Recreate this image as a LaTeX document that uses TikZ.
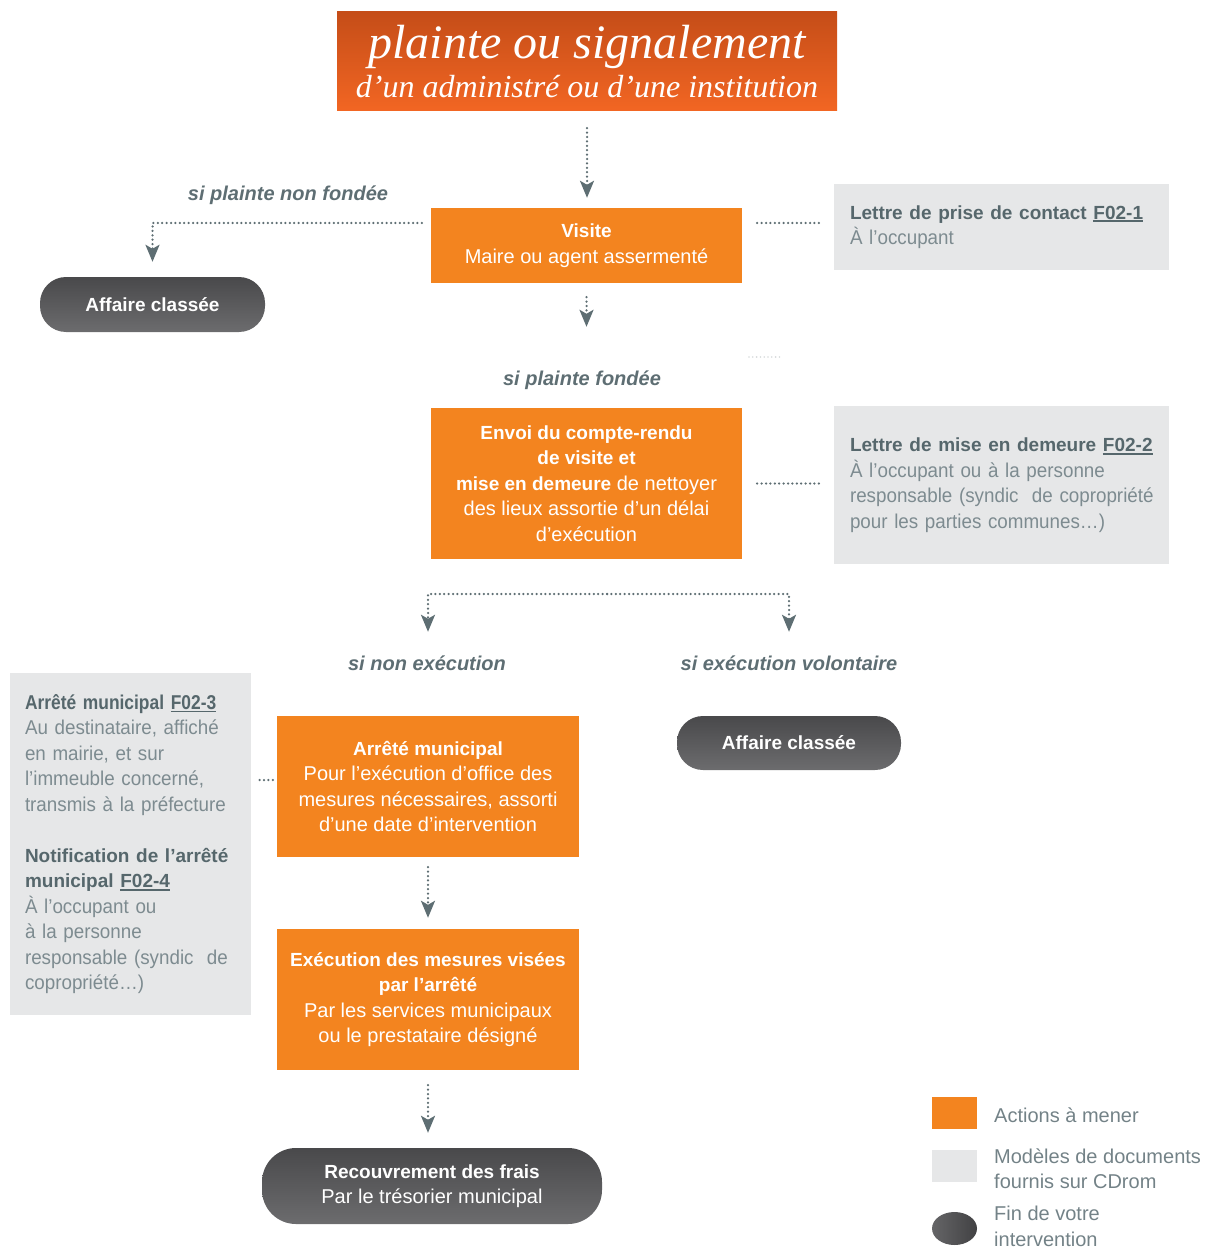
\documentclass[tikz,border=0pt]{standalone}
\usepackage{fontspec}
\setmainfont{Liberation Sans}
\newfontfamily\titlefont{Liberation Serif}
\newfontfamily\plainfont{Liberation Sans}
\newfontfamily\condfont[FakeStretch=0.87]{Liberation Sans}
\newfontfamily\docfont[FakeStretch=0.94]{Liberation Sans}
\usetikzlibrary{arrows.meta,shapes.geometric,calc}

\definecolor{actorange}{HTML}{F3841F}
\definecolor{titletop}{HTML}{C54D18}
\definecolor{titlebot}{HTML}{F26623}
\definecolor{docgray}{HTML}{E6E7E8}
\definecolor{docdark}{HTML}{56676C}
\definecolor{docmid}{HTML}{7D8B90}
\definecolor{flowgray}{HTML}{5E6E73}
\definecolor{faintgray}{HTML}{D6DADB}
\definecolor{pilltop}{HTML}{49494B}
\definecolor{pillbot}{HTML}{6C6C6E}
\definecolor{legtextc}{HTML}{738287}

% bold run inside a box, bold heading of a document box, condensed heading
\newcommand\hb[1]{{\fontsize{19}{25.5}\selectfont\bfseries #1}}
\newcommand\hd[1]{{\color{docdark}\plainfont\fontsize{19}{25.5}\selectfont\bfseries #1}}
\newcommand\hc[1]{{\color{docdark}\condfont\fontsize{20}{25.5}\selectfont\bfseries #1}}
% underlined form reference
\newcommand\fref[1]{\setbox0\hbox{#1}\rlap{\rule[-3pt]{\wd0}{1.6pt}}\box0}

\begin{document}
\begin{tikzpicture}[x=1pt,y=-1pt,
  basefont/.style={font=\fontsize{20}{25.5}\selectfont},
  action/.style={basefont, fill=actorange, text=white, align=center, inner sep=0pt},
  doc/.style={font=\docfont\fontsize{20}{25.5}\selectfont, fill=docgray, text=docmid, align=left, inner xsep=16pt, inner ysep=0pt},
  pill/.style={basefont, top color=pilltop, bottom color=pillbot, text=white, align=center, inner sep=0pt},
  lab/.style={font=\fontsize{20}{24}\selectfont\bfseries\itshape, text=flowgray, inner sep=0pt},
  legtext/.style={basefont, text=legtextc, align=left, inner sep=0pt, anchor=west},
  dotline/.style={draw=flowgray, line width=2.5pt, dash pattern=on 0pt off 4.4pt, line cap=round},
  flow/.style={dotline, -{Stealth[length=17pt,width=14pt,inset=4pt]}}
]
\useasboundingbox (0,0) rectangle (1208,1249);

% title banner
\node[top color=titletop, bottom color=titlebot, text=white, align=center, inner sep=0pt,
      minimum width=500pt, minimum height=99pt, font=\titlefont\itshape] (title) at (587,61.5)
  {\fontsize{48}{40}\selectfont plainte ou signalement\\[6pt]
   \fontsize{32}{36}\selectfont d’un administré ou d’une institution};

% actions
\node[action, minimum width=311pt, minimum height=75pt] (visite) at (586.5,245.5)
  {\hb{Visite}\\Maire ou agent assermenté};
\node[action, minimum width=311pt, minimum height=151pt] (envoi) at (586.5,483.5)
  {\hb{Envoi du compte-rendu}\\\hb{de visite et}\\\hb{mise en demeure} de nettoyer\\des lieux assortie d’un délai\\d’exécution};
\node[action, minimum width=302pt, minimum height=141pt] (arrete) at (428,786.5)
  {\hb{Arrêté municipal}\\Pour l’exécution d’office des\\mesures nécessaires, assorti\\d’une date d’intervention};
\node[action, minimum width=302pt, minimum height=141pt] (exec) at (428,999.5)
  {\hb{Exécution des mesures visées}\\\hb{par l’arrêté}\\Par les services municipaux\\ou le prestataire désigné};

% ends of the procedure
\node[pill, rounded corners=26pt, minimum width=225pt, minimum height=55pt] (aff1) at (152.5,304.5)
  {\hb{Affaire classée}};
\node[pill, rounded corners=26pt, minimum width=224pt, minimum height=54pt] (aff2) at (789,743)
  {\hb{Affaire classée}};
\node[pill, rounded corners=34pt, minimum width=340pt, minimum height=76pt] (recouv) at (432,1186)
  {\hb{Recouvrement des frais}\\Par le trésorier municipal};

% document models
\node[doc, text width=303pt, minimum height=86pt] (doc1) at (1001.5,227)
  {\hd{Lettre de prise de contact \fref{F02-1}}\\À l’occupant};
\node[doc, text width=303pt, minimum height=158pt] (doc2) at (1001.5,485)
  {\mbox{\hd{Lettre de mise en demeure \fref{F02-2}}}\\
   \mbox{À l’occupant ou à la personne}\\
   \mbox{responsable (syndic\ \ de copropriété}\\
   \mbox{pour les parties communes…)}};
\node[doc, inner xsep=15pt, text width=211pt, minimum height=342pt] (doc3) at (130.5,844)
  {\mbox{\hc{Arrêté municipal \fref{F02-3}}}\\
   \mbox{Au destinataire, affiché}\\
   \mbox{en mairie, et sur}\\
   \mbox{l’immeuble concerné,}\\
   \mbox{transmis à la préfecture}\\[25.5pt]
   \mbox{\hd{Notification de l’arrêté}}\\
   \mbox{\hd{municipal \fref{F02-4}}}\\
   \mbox{À l’occupant ou}\\
   \mbox{à la personne}\\
   \mbox{responsable (syndic\ \ de}\\
   \mbox{copropriété…)}};

% branch labels
\node[lab] (lnon) at (288,195) {si plainte non fondée};
\node[lab] (lfond) at (582,380) {si plainte fondée};
\node[lab] (lnexec) at (427,663) {si non exécution};
\node[lab] (lvol) at (789,663) {si exécution volontaire};

% connectors
\draw[flow, shorten <=17pt, shorten >=10pt] (title.south) -- (title.south |- visite.north);
\coordinate (vw) at ([yshift=22.5pt]visite.west);
\draw[flow, shorten <=9pt, shorten >=15pt] (vw) -| (aff1.north);
\coordinate (ve) at ([yshift=22.5pt]visite.east);
\draw[dotline, shorten <=15pt, shorten >=12pt] (ve) -- (ve -| doc1.west);
\draw[flow, shorten <=14pt, shorten >=81pt] (visite.south) -- (envoi.north);
\coordinate (fa) at (749,357);
\coordinate (fb) at (782,357);
\draw[dotline, draw=faintgray, line width=1.8pt, dash pattern=on 0pt off 3.8pt] (fa) -- (fb);
\draw[dotline, shorten <=15pt, shorten >=12pt] (envoi.east) -- (envoi.east -| doc2.west);
\coordinate (fork) at (607,594);
\draw[flow, shorten >=84pt] (fork) -| (arrete.north);
\draw[flow, shorten >=84pt] (fork) -| (aff2.north);
\coordinate (aw) at ([yshift=6.5pt]arrete.west);
\draw[dotline, shorten <=4pt, shorten >=6pt] (aw) -- (aw -| doc3.east);
\draw[flow, shorten <=10pt, shorten >=11pt] (arrete.south) -- (exec.north);
\draw[flow, shorten <=15pt, shorten >=15pt] (exec.south) -- (exec.south |- recouv.north);

% legend
\node[fill=actorange, minimum width=45pt, minimum height=32pt, inner sep=0pt] (leg1) at (954.5,1113) {};
\node[fill=docgray, minimum width=45pt, minimum height=32pt, inner sep=0pt] (leg2) at (954.5,1166) {};
\node[ellipse, left color=pillbot!105, right color=pilltop!90!black, minimum width=45pt, minimum height=33pt, inner sep=0pt] (leg3) at (954.5,1228.5) {};
\node[legtext] (leg1t) at (994,1115) {Actions à mener};
\node[legtext] (leg2t) at (994,1168.5) {Modèles de documents\\fournis sur CDrom};
\node[legtext] (leg3t) at (994,1226.5) {Fin de votre\\intervention};
\end{tikzpicture}
\end{document}
